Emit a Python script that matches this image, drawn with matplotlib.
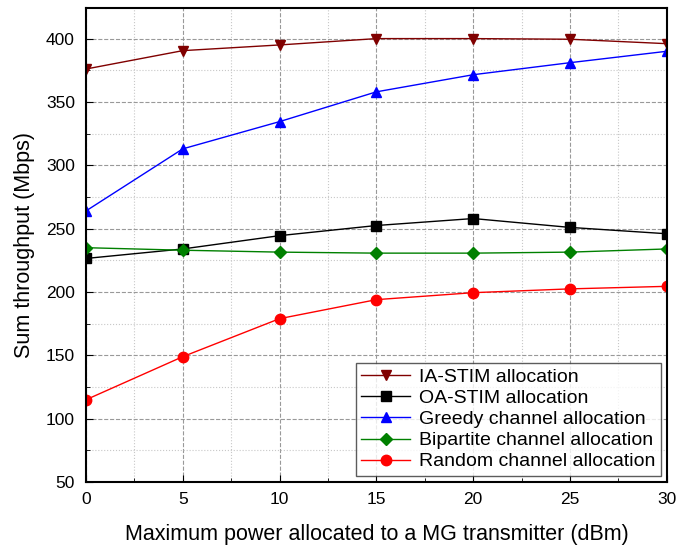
import matplotlib
matplotlib.use("Agg")
import matplotlib.pyplot as plt
from matplotlib.ticker import MultipleLocator

plt.rcParams['font.family'] = ['Liberation Sans', 'DejaVu Sans']

power = [0, 5, 10, 15, 20, 25, 30]
ia_stim = [376, 390.5, 395, 400, 400, 399.5, 396]
oa_stim = [226.5, 234, 244.5, 252.5, 258, 251, 246]
greedy = [264, 313, 334.5, 358, 371.5, 381, 390]
bipartite = [235, 233, 231.5, 230.7, 230.7, 231.5, 234]
random_alloc = [115, 149, 179, 194, 199.5, 202.5, 204.5]

fig = plt.figure(figsize=(6.77, 5.46), dpi=100)
ax = fig.add_axes([0.127, 0.117, 0.858, 0.868])

ax.plot(power, ia_stim, color='#800000', marker='v', markersize=7.5, lw=1, label='IA-STIM allocation')
ax.plot(power, oa_stim, color='black', marker='s', markersize=6.5, lw=1, label='OA-STIM allocation')
ax.plot(power, greedy, color='blue', marker='^', markersize=7.5, lw=1, label='Greedy channel allocation')
ax.plot(power, bipartite, color='green', marker='D', markersize=6.5, lw=1, label='Bipartite channel allocation')
ax.plot(power, random_alloc, color='red', marker='o', markersize=7.5, lw=1, label='Random channel allocation')

ax.set_xlim(0, 30)
ax.set_ylim(50, 424)
ax.xaxis.set_major_locator(MultipleLocator(5))
ax.xaxis.set_minor_locator(MultipleLocator(2.5))
ax.yaxis.set_major_locator(MultipleLocator(50))
ax.yaxis.set_minor_locator(MultipleLocator(25))

ax.grid(which='major', linestyle='--', color='#999999', lw=0.8)
ax.grid(which='minor', linestyle=':', color='#c8c8c8', lw=0.8)
ax.set_axisbelow(True)

ax.tick_params(which='both', direction='in', labelsize=12.5)
ax.tick_params(which='major', length=5)
ax.tick_params(which='minor', length=3)
ax.tick_params(axis='x', pad=7)
ax.tick_params(axis='y', pad=8)
for s in ax.spines.values():
    s.set_linewidth(1.5)

ax.set_xlabel('Maximum power allocated to a MG transmitter (dBm)', fontsize=15.5, labelpad=12)
ax.set_ylabel('Sum throughput (Mbps)', fontsize=15.5, labelpad=8)

leg = ax.legend(loc='lower right', fontsize=14, fancybox=False, edgecolor='#333333',
                handlelength=2.5, borderpad=0.3, labelspacing=0.18, handletextpad=0.45,
                borderaxespad=0.3)
leg.get_frame().set_linewidth(1)

fig.savefig('out.png', dpi=100)
